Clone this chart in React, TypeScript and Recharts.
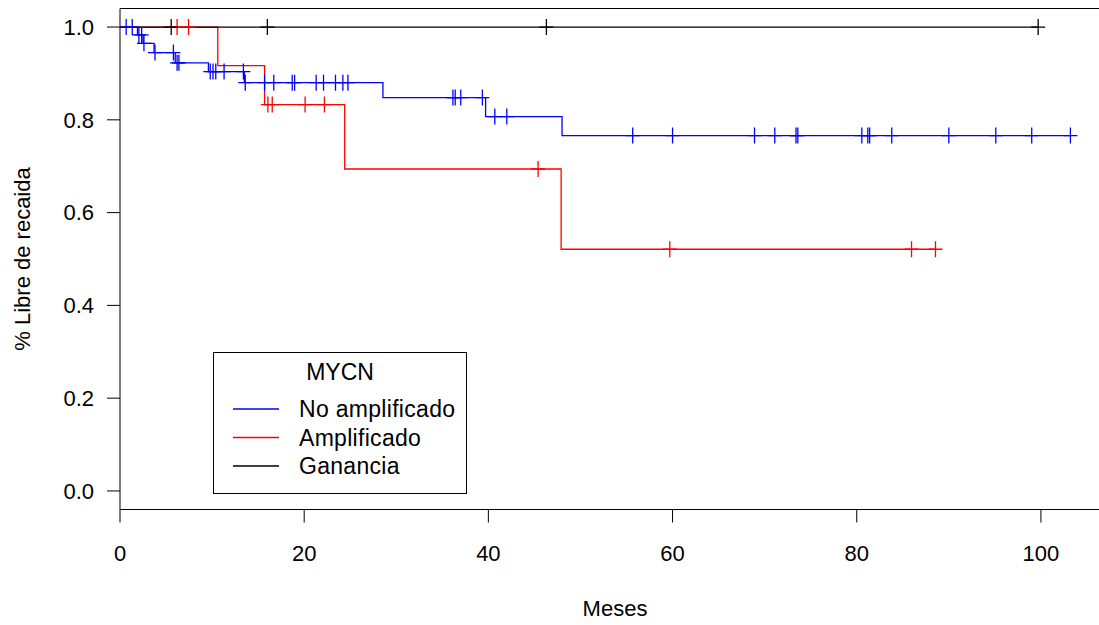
import { ComposedChart, Line, Scatter, XAxis, YAxis, ReferenceArea, Legend } from 'recharts';

// Kaplan-Meier curves: step times and survival after each step
const noAmpTimes = [0, 1.9, 2.5, 3.7, 6.0, 9.6, 13.5, 28.55, 39.7, 48.0, 103.2];
const noAmpSurv = [1, 0.983, 0.965, 0.945, 0.923, 0.904, 0.88, 0.848, 0.807, 0.766, 0.766];
const noAmpCensorT = [
  0.67, 1.33, 2.05, 2.35, 2.6, 3.8, 5.8, 6.2, 6.4, 9.8, 10.1, 10.4, 11.3, 13.4, 13.6, 15.7, 16.7, 18.7, 18.96,
  21.3, 22.1, 23.4, 24.2, 24.75, 36.15, 36.4, 37.0, 39.35, 40.7, 42.0, 55.67, 60.0, 68.9, 71.1, 73.4, 73.6,
  80.55, 81.2, 81.4, 83.8, 90.0, 95.1, 99.0, 103.2,
];
const noAmpCensorS = [
  1, 1, 0.983, 0.983, 0.965, 0.945, 0.945, 0.923, 0.923, 0.904, 0.904, 0.904, 0.904, 0.904, 0.88, 0.88, 0.88,
  0.88, 0.88, 0.88, 0.88, 0.88, 0.88, 0.88, 0.848, 0.848, 0.848, 0.848, 0.807, 0.807, 0.766, 0.766, 0.766,
  0.766, 0.766, 0.766, 0.766, 0.766, 0.766, 0.766, 0.766, 0.766, 0.766, 0.766,
];

const ampTimes = [0, 10.62, 15.7, 24.4, 47.9, 88.55];
const ampSurv = [1, 0.917, 0.833, 0.694, 0.521, 0.521];
const ampCensorT = [6.2, 7.44, 16.06, 16.53, 20.1, 22.2, 45.4, 59.7, 85.95, 88.55];
const ampCensorS = [1, 1, 0.833, 0.833, 0.833, 0.833, 0.694, 0.521, 0.521, 0.521];

const ganTimes = [0, 99.7];
const ganSurv = [1, 1];
const ganCensorT = [5.56, 16.0, 46.3, 99.7];
const ganCensorS = [1, 1, 1, 1];

const seriesNames = ['No amplificado', 'Amplificado', 'Ganancia'];
const seriesColors = ['#0000ff', '#ff0000', '#000000'];

const xTicks = [0, 20, 40, 60, 80, 100];
const yTicks = [0, 0.2, 0.4, 0.6, 0.8, 1.0];

const zip = (ts: number[], ss: number[]) => ts.map((t, i) => ({ t, s: ss[i] }));

const FONT = '"Liberation Sans", Arial, sans-serif';

const cross = (color: string) => (props: any) => {
  const { cx, cy } = props;
  return <path d={`M${cx - 7},${cy}h14M${cx},${cy - 8}v16`} stroke={color} strokeWidth={1.3} fill="none" />;
};

const LegendBox = () => (
  <svg width={254} height={142} style={{ display: 'block' }}>
    <rect x={0.5} y={0.5} width={253} height={141} fill="#fff" stroke="#000" strokeWidth={1} />
    <text x={127} y={28} textAnchor="middle" fontSize={23} fontFamily={FONT} fill="#000">
      MYCN
    </text>
    {seriesNames.map((name, i) => {
      const cy = 57 + i * 28.5;
      return (
        <g key={name}>
          <line x1={20} x2={66} y1={cy} y2={cy} stroke={seriesColors[i]} strokeWidth={1.3} />
          <text x={86} y={cy + 8} fontSize={23} fontFamily={FONT} fill="#000" letterSpacing={0.3}>
            {name}
          </text>
        </g>
      );
    })}
  </svg>
);

const App = () => {
  const series = [
    { steps: zip(noAmpTimes, noAmpSurv), censor: zip(noAmpCensorT, noAmpCensorS) },
    { steps: zip(ampTimes, ampSurv), censor: zip(ampCensorT, ampCensorS) },
    { steps: zip(ganTimes, ganSurv), censor: zip(ganCensorT, ganCensorS) },
  ];
  const tickStyle = { fontSize: 22, fontFamily: FONT, fill: '#000' };

  return (
    <div style={{ position: 'absolute', left: 0, top: 0, width: 1099, height: 625, overflow: 'hidden', background: '#fff', fontFamily: FONT }}>
      <ComposedChart width={1112} height={625} margin={{ top: 8.5, right: 2, bottom: 0, left: 0 }}>
        <XAxis
          type="number"
          dataKey="t"
          domain={[0, 107.5]}
          allowDataOverflow
          ticks={xTicks}
          axisLine={false}
          tickLine={{ stroke: '#000' }}
          tickSize={13}
          tickMargin={23}
          tick={tickStyle}
          height={115.5}
          label={{ value: 'Meses', position: 'insideBottom', offset: 9, style: { fontSize: 22, fontFamily: FONT, fill: '#000' } }}
        />
        <YAxis
          type="number"
          dataKey="s"
          domain={[-0.04, 1.04]}
          allowDataOverflow
          ticks={yTicks}
          tickFormatter={(v: number) => v.toFixed(1)}
          axisLine={false}
          tickLine={{ stroke: '#000' }}
          tickSize={13}
          tickMargin={13}
          tick={tickStyle}
          width={120}
          label={{
            value: '% Libre de recaida',
            angle: -90,
            position: 'insideLeft',
            offset: 22,
            style: { textAnchor: 'middle', fontSize: 22, fontFamily: FONT, fill: '#000' },
          }}
        />
        <ReferenceArea x1={0} x2={107.5} y1={-0.04} y2={1.04} fill="none" stroke="#000" strokeWidth={1} ifOverflow="visible" />
        {series.map((sr, i) => (
          <Line
            key={`line-${i}`}
            data={sr.steps}
            dataKey="s"
            type="stepAfter"
            stroke={seriesColors[i]}
            strokeWidth={1.3}
            dot={false}
            activeDot={false}
            name={seriesNames[i]}
            isAnimationActive={false}
          />
        ))}
        {series.map((sr, i) => (
          <Scatter
            key={`cens-${i}`}
            data={sr.censor}
            dataKey="s"
            shape={cross(seriesColors[i])}
            isAnimationActive={false}
            legendType="none"
          />
        ))}
        <Legend
          layout="horizontal"
          verticalAlign="middle"
          align="center"
          wrapperStyle={{ position: 'absolute', left: 213, top: 352, width: 254, height: 142, margin: 0 }}
          content={() => <LegendBox />}
        />
      </ComposedChart>
    </div>
  );
};

export default App;
